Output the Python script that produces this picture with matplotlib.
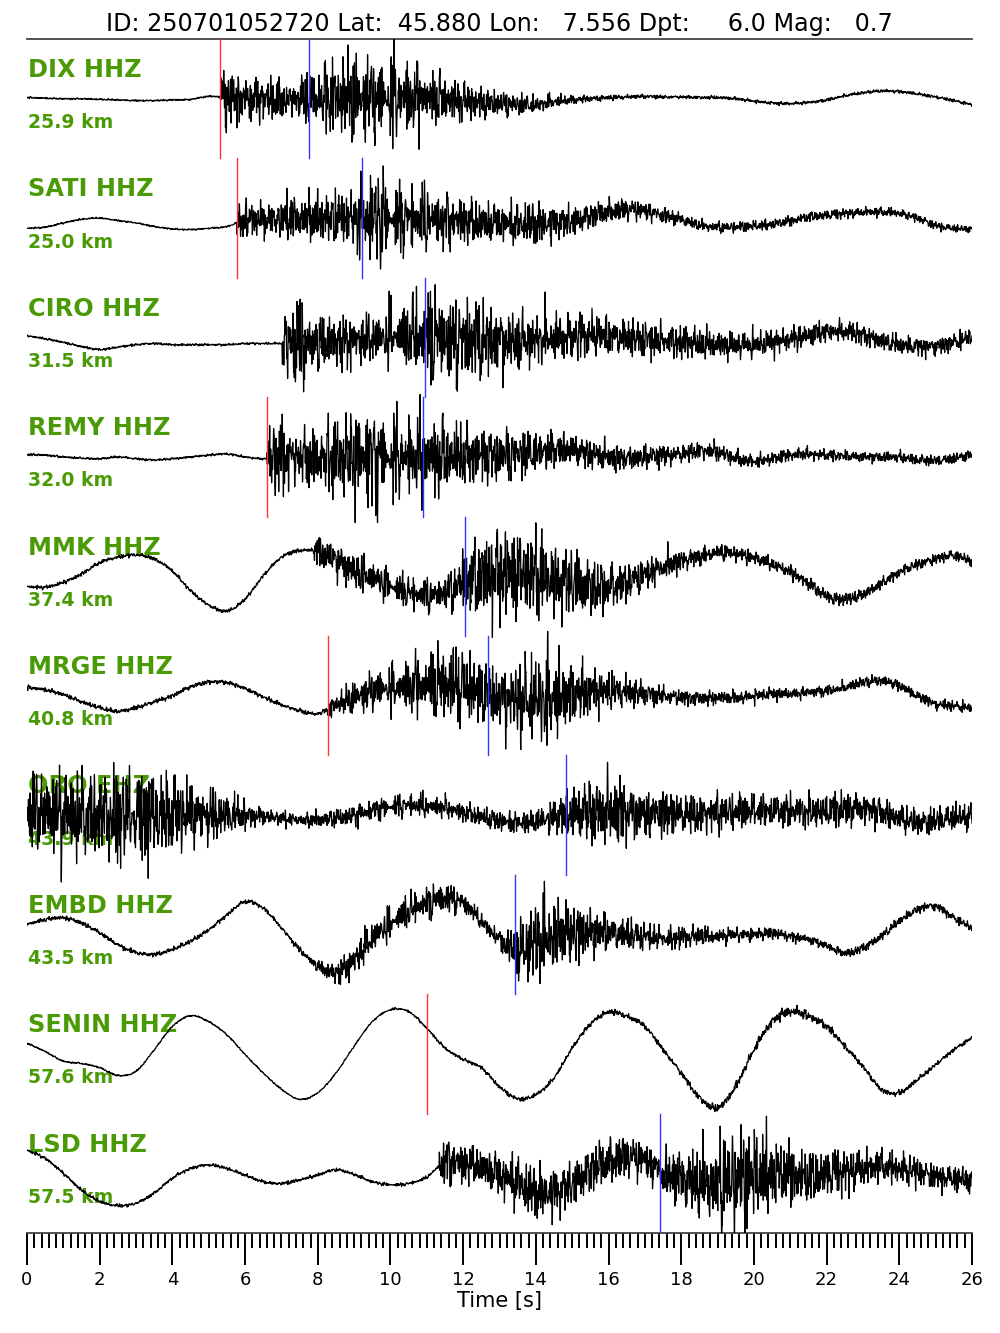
import matplotlib
matplotlib.use("Agg")
import matplotlib.pyplot as plt
import matplotlib.ticker as mticker
import numpy as np

plt.rcParams["font.family"] = ["DejaVu Sans"]

# ── event / station metadata ──────────────────────────────
EVENT_TITLE = "ID: 250701052720 Lat:  45.880 Lon:   7.556 Dpt:     6.0 Mag:   0.7"

stations = ["DIX HHZ", "SATI HHZ", "CIRO HHZ", "REMY HHZ", "MMK HHZ",
            "MRGE HHZ", "ORO EHZ", "EMBD HHZ", "SENIN HHZ", "LSD HHZ"]
distances_km = [25.9, 25.0, 31.5, 32.0, 37.4, 40.8, 43.9, 43.5, 57.6, 57.5]

# picks in seconds after trace start (None = no pick)
p_picks = [5.32, 5.77, None, 6.60, None, 8.27, None, None, 11.01, None]
s_picks = [7.76, 9.23, 10.94, 10.90, 12.06, 12.68, 14.83, 13.43, None, 17.41]
# time where the high-frequency energy switches on
onsets = [5.32, 5.77, 7.02, 6.60, 7.90, 8.27, None, None, None, 11.34]

# ── waveform descriptions, one knot every 0.5 s (0 ... 26 s) ──
# trend: long-period motion, env: short-period amplitude
# both normalised so that 1.0 = half a trace row
knots = np.arange(0, 26.5, 0.5)

trend = {
    "DIX": [0.02, 0.01, 0.0, 0.0, -0.01, -0.02, -0.03, -0.03, -0.02, -0.01,
            0.04, 0.02, 0.0, 0.0, -0.02, 0.0, 0.0, 0.02, 0.0, 0.02,
            0.03, 0.03, 0.02, 0.0, -0.03, -0.06, -0.08, -0.1, -0.1, -0.05,
            -0.02, 0.0, 0.02, 0.03, 0.04, 0.03, 0.03, 0.02, 0.02, 0.0,
            -0.04, -0.07, -0.08, -0.06, -0.02, 0.05, 0.1, 0.13, 0.12, 0.08,
            0.03, -0.03, -0.1],
    "SATI": [-0.17, -0.15, -0.08, -0.02, 0.0, -0.04, -0.08, -0.14, -0.18, -0.19,
             -0.17, -0.14, -0.03, -0.03, -0.02, 0.0, 0.0, 0.0, 0.0, 0.0,
             0.0, 0.0, -0.02, -0.03, -0.05, -0.08, -0.08, -0.1, -0.1, -0.08,
             -0.05, 0.03, 0.1, 0.15, 0.12, 0.05, -0.02, -0.12, -0.15, -0.15,
             -0.13, -0.1, -0.05, 0.02, 0.05, 0.08, 0.1, 0.1, 0.08, 0.0,
             -0.12, -0.17, -0.18],
    "CIRO": [0.03, -0.02, -0.08, -0.15, -0.2, -0.16, -0.12, -0.1, -0.12, -0.12,
             -0.12, -0.12, -0.1, -0.1, -0.1, -0.12, -0.1, -0.08, -0.05, -0.02,
             0.03, 0.05, 0.03, 0.0, -0.03, -0.05, -0.07, -0.05, -0.03, 0.0,
             0.03, 0.04, 0.03, 0.0, -0.03, -0.05, -0.08, -0.1, -0.12, -0.12,
             -0.12, -0.08, -0.03, 0.04, 0.1, 0.1, 0.04, -0.05, -0.12, -0.15,
             -0.14, -0.08, 0.02],
    "REMY": [0.04, 0.03, 0.0, -0.02, -0.03, 0.0, -0.03, -0.05, -0.03, 0.0,
             0.03, 0.05, 0.0, -0.03, 0.0, 0.0, 0.0, 0.0, 0.0, 0.0,
             0.0, 0.0, 0.0, 0.0, 0.0, 0.02, 0.03, 0.05, 0.08, 0.12,
             0.12, 0.05, 0.0, -0.02, 0.0, 0.03, 0.05, 0.1, 0.08, -0.02,
             -0.07, -0.03, 0.03, 0.05, 0.03, 0.02, 0.0, 0.0, 0.0, -0.05,
             -0.06, -0.02, 0.03],
    "MMK": [-0.17, -0.18, -0.1, 0.04, 0.23, 0.32, 0.36, 0.29, 0.09, -0.24,
            -0.48, -0.58, -0.38, 0.01, 0.32, 0.43, 0.42, 0.29, 0.09, -0.02,
            -0.16, -0.27, -0.32, -0.27, -0.1, 0.0, 0.06, 0.09, 0.04, -0.07,
            -0.13, -0.18, -0.18, -0.1, 0.04, 0.15, 0.26, 0.34, 0.4, 0.38,
            0.31, 0.2, 0.07, -0.12, -0.33, -0.38, -0.3, -0.12, 0.07, 0.2,
            0.29, 0.35, 0.25],
    "MRGE": [0.14, 0.1, 0.02, -0.1, -0.2, -0.26, -0.2, -0.1, 0.0, 0.15,
             0.23, 0.22, 0.12, -0.02, -0.15, -0.25, -0.3, -0.15, -0.03, 0.08,
             0.14, 0.16, 0.19, 0.19, 0.16, 0.06, -0.03, -0.08, -0.06, -0.03,
             0.03, 0.08, 0.08, 0.06, 0.03, 0.0, -0.03, -0.04, -0.03, -0.03,
             0.0, 0.03, 0.03, 0.06, 0.08, 0.14, 0.22, 0.25, 0.17, 0.0,
             -0.14, -0.17, -0.21],
    "ORO": [0.05, 0.05, 0.03, 0.0, 0.0, 0.0, 0.0, 0.0, 0.0, 0.0,
            0.0, 0.0, 0.0, -0.02, -0.05, -0.08, -0.08, -0.05, 0.0, 0.08,
            0.14, 0.17, 0.15, 0.12, 0.05, -0.03, -0.1, -0.13, -0.1, -0.03,
            0.03, 0.05, 0.06, 0.05, 0.03, 0.03, 0.02, 0.03, 0.05, 0.06,
            0.07, 0.08, 0.08, 0.06, 0.06, 0.1, 0.12, 0.05, -0.05, -0.12,
            -0.1, -0.04, -0.03],
    "EMBD": [0.17, 0.25, 0.28, 0.19, 0.03, -0.17, -0.3, -0.33, -0.25, -0.11,
             0.08, 0.33, 0.55, 0.44, 0.11, -0.25, -0.53, -0.64, -0.42, -0.06,
             0.19, 0.39, 0.53, 0.6, 0.53, 0.22, -0.08, -0.28, -0.11, -0.03,
             0.03, 0.03, 0.03, 0.0, -0.03, -0.06, -0.05, -0.03, -0.03, 0.0,
             0.0, 0.03, -0.03, -0.08, -0.19, -0.31, -0.22, -0.03, 0.22, 0.42,
             0.47, 0.28, 0.11],
    "SENIN": [0.18, 0.04, -0.12, -0.16, -0.23, -0.36, -0.29, 0.07, 0.46, 0.64,
              0.54, 0.32, -0.01, -0.32, -0.59, -0.76, -0.65, -0.32, 0.13, 0.54,
              0.74, 0.71, 0.43, 0.1, -0.09, -0.23, -0.55, -0.75, -0.68, -0.4,
              0.1, 0.5, 0.7, 0.63, 0.46, 0.07, -0.32, -0.73, -0.9, -0.54,
              0.07, 0.54, 0.71, 0.63, 0.46, 0.13, -0.21, -0.59, -0.65, -0.43,
              -0.18, 0.07, 0.27],
    "LSD": [0.39, 0.25, 0.0, -0.28, -0.47, -0.54, -0.5, -0.33, -0.08, 0.08,
            0.14, 0.08, -0.03, -0.14, -0.17, -0.11, -0.03, 0.06, -0.02, -0.14,
            -0.19, -0.17, -0.06, 0.19, 0.17, 0.11, -0.03, -0.17, -0.33, -0.31,
            -0.17, 0.06, 0.19, 0.28, 0.22, 0.0, -0.08, -0.17, -0.19, -0.11,
            -0.03, 0.0, -0.03, -0.06, 0.0, 0.03, 0.08, 0.11, 0.08, 0.03,
            -0.06, -0.08, -0.11],
}

env = {
    "DIX": [0.015] * 10 +
           [0.015, 0.6, 0.4, 0.4, 0.38, 0.45, 0.6, 0.75, 0.85, 0.7,
            0.85, 0.7, 0.55, 0.45, 0.38, 0.3, 0.24, 0.2, 0.17, 0.12,
            0.09, 0.06, 0.05, 0.04, 0.04, 0.035, 0.03, 0.03, 0.03, 0.03] +
           [0.03] * 13,
    "SATI": [0.015] * 10 +
            [0.015, 0.015, 0.35, 0.32, 0.35, 0.42, 0.45, 0.5, 0.55, 0.9,
             0.7, 0.6, 0.55, 0.5, 0.45, 0.4, 0.35, 0.38, 0.42, 0.32,
             0.27, 0.24, 0.22, 0.2, 0.17, 0.14, 0.12, 0.11, 0.1, 0.1,
             0.1, 0.1, 0.09, 0.09, 0.09, 0.09, 0.09, 0.09, 0.08, 0.08,
             0.08, 0.07, 0.07],
    "CIRO": [0.02] * 15 +
            [0.8, 0.5, 0.5, 0.45, 0.45,
             0.55, 0.65, 0.9, 0.8, 0.8, 0.75, 0.6, 0.55, 0.5, 0.45,
             0.42, 0.4, 0.38, 0.36, 0.38, 0.32, 0.3, 0.28, 0.28, 0.26,
             0.25, 0.24, 0.22, 0.22, 0.2, 0.19, 0.18, 0.18, 0.17, 0.17,
             0.17, 0.17, 0.18],
    "REMY": [0.02] * 14 +
            [0.65, 0.55, 0.6, 0.8, 0.85, 0.95,
             0.75, 0.7, 0.75, 0.7, 0.6, 0.5, 0.5, 0.45, 0.4, 0.35,
             0.3, 0.28, 0.25, 0.22, 0.22, 0.2, 0.18, 0.17, 0.15, 0.14,
             0.12, 0.12, 0.12, 0.11, 0.1, 0.1, 0.1, 0.1, 0.1, 0.1,
             0.1, 0.1, 0.1],
    "MMK": [0.035] * 16 +
           [0.3, 0.28, 0.4, 0.3,
            0.3, 0.3, 0.3, 0.28, 0.6, 0.8, 0.9, 0.85, 0.8, 0.7,
            0.6, 0.55, 0.45, 0.35, 0.3, 0.25, 0.2, 0.18, 0.16, 0.15,
            0.13, 0.12, 0.12, 0.12, 0.12, 0.12, 0.11, 0.1, 0.1, 0.1,
            0.1, 0.1, 0.1],
    "MRGE": [0.04] * 17 +
            [0.2, 0.3, 0.35,
             0.4, 0.5, 0.6, 0.75, 0.7, 0.65, 0.55, 0.7, 0.85, 0.9,
             0.6, 0.45, 0.35, 0.3, 0.22, 0.18, 0.15, 0.13, 0.12, 0.12,
             0.12, 0.12, 0.11, 0.1, 0.1, 0.1, 0.1, 0.1, 0.1, 0.1,
             0.1, 0.1, 0.1],
    "ORO": [0.75, 0.7, 0.85, 0.85, 0.8, 0.9, 0.95, 0.9, 0.8, 0.65,
            0.5, 0.38, 0.27, 0.16, 0.12, 0.12, 0.15, 0.18, 0.2, 0.2,
            0.2, 0.2, 0.2, 0.18, 0.18, 0.18, 0.2, 0.2, 0.2, 0.3,
            0.5, 0.6, 0.65, 0.55, 0.45, 0.45, 0.4, 0.4, 0.35, 0.35,
            0.3, 0.3, 0.3, 0.3, 0.3, 0.35, 0.3, 0.3, 0.25, 0.25,
            0.25, 0.25, 0.25],
    "EMBD": [0.04] * 15 +
            [0.05, 0.1, 0.2, 0.3, 0.3,
             0.3, 0.3, 0.3, 0.3, 0.2, 0.15, 0.15, 0.55, 0.85, 0.7,
             0.6, 0.45, 0.35, 0.3, 0.25, 0.2, 0.2, 0.18, 0.15, 0.13,
             0.12, 0.12, 0.1, 0.08, 0.08, 0.08, 0.08, 0.08, 0.08, 0.08,
             0.08, 0.08, 0.08],
    "SENIN": [0.015] * 20 +
             [0.02, 0.02, 0.025, 0.03, 0.03, 0.035, 0.04, 0.04, 0.04, 0.04,
              0.04, 0.045, 0.05, 0.05, 0.05, 0.05, 0.06, 0.06, 0.07, 0.07,
              0.08, 0.09, 0.1, 0.09, 0.08, 0.06, 0.05, 0.05, 0.05, 0.05,
              0.04, 0.04, 0.04],
    "LSD": [0.03] * 23 +
           [0.45, 0.4, 0.35, 0.4, 0.5, 0.5, 0.45,
            0.4, 0.45, 0.45, 0.4, 0.35, 0.35, 0.55, 0.7, 0.9, 1.0,
            0.9, 0.7, 0.6, 0.5, 0.45, 0.4, 0.35, 0.3, 0.3, 0.28,
            0.25, 0.25, 0.25],
}

LABEL_GREEN = "#4a9a06"
P_COLOR = "#ff3535"
S_COLOR = "#3535ff"

t = np.arange(0, 26.0 + 1e-9, 0.005)   # 200 sps


def smooth_curve(vals):
    # cubic Hermite through the knots, keeps the long-period swing round
    v = np.asarray(vals, dtype=float)
    h = knots[1] - knots[0]
    m = np.gradient(v, h)
    k = np.clip(np.searchsorted(knots, t, side="right") - 1, 0, len(knots) - 2)
    s = (t - knots[k]) / h
    h00 = 2 * s**3 - 3 * s**2 + 1
    h10 = s**3 - 2 * s**2 + s
    h01 = -2 * s**3 + 3 * s**2
    h11 = s**3 - s**2
    return h00 * v[k] + h10 * h * m[k] + h01 * v[k + 1] + h11 * h * m[k + 1]


def amplitude(vals, onset):
    vals = np.asarray(vals, dtype=float)
    a = np.interp(t, knots, vals)
    if onset is not None:
        k = np.searchsorted(knots, onset)
        a[(t >= knots[k - 1]) & (t < onset)] = vals[k - 1]
        a[(t >= onset) & (t < knots[k])] = vals[k]
    return a


def wiggle(row):
    # short-period texture: a bundle of incommensurate sines
    freqs = [3.1, 4.7, 6.3, 7.9, 9.4, 10.9, 12.6, 14.2, 15.9, 17.7,
             19.6, 21.3, 23.8, 26.1, 28.9, 31.7, 34.3, 37.1, 41.3, 45.7]
    g = 0.6180339887
    c = np.zeros_like(t)
    for j, f in enumerate(freqs):
        ph = 2 * np.pi * (((j + 1) * (row + 3) * g) % 1.0)
        wob = 1.1 * np.sin(2 * np.pi * (0.13 + 0.071 * j) * t + j)
        c += np.sin(2 * np.pi * f * t + ph + wob)
    return c / (2.5 * c.std())


fig = plt.figure(figsize=(10, 13.33), dpi=100)
ax = fig.add_axes([0.027, 0.075, 0.945, 0.8957])

for i, name in enumerate(stations):
    key = name.split()[0]
    tr = smooth_curve(trend[key])
    a = amplitude(env[key], onsets[i])
    y = tr + a * wiggle(i)
    ax.plot(t, i + 0.5 - 0.5 * y, color="black", lw=0.9, zorder=3)

    if p_picks[i] is not None:
        ax.plot([p_picks[i]] * 2, [i, i + 1], color=P_COLOR, lw=1.0, zorder=4)
    if s_picks[i] is not None:
        ax.plot([s_picks[i]] * 2, [i, i + 1], color=S_COLOR, lw=1.0, zorder=4)

    ax.text(0.03, i + 0.26, name, color=LABEL_GREEN, fontsize=17.3,
            fontweight="bold", ha="left", va="center", zorder=2)
    ax.text(0.03, i + 0.70, f"{distances_km[i]:.1f} km", color=LABEL_GREEN,
            fontsize=13.6, fontweight="bold", ha="left", va="center", zorder=2)

ax.set_xlim(0, 26)
ax.set_ylim(10, 0)
ax.set_yticks([])
for side in ("left", "right"):
    ax.spines[side].set_visible(False)
for side in ("top", "bottom"):
    ax.spines[side].set_color("#444444")
    ax.spines[side].set_linewidth(1.3)

ax.xaxis.set_major_locator(mticker.MultipleLocator(2))
ax.xaxis.set_minor_locator(mticker.MultipleLocator(0.2))
ax.tick_params(axis="x", which="major", direction="out", length=23, width=1.4,
               labelsize=13, pad=4)
ax.tick_params(axis="x", which="minor", direction="out", length=11, width=1.4)
ax.set_xlabel("Time [s]", fontsize=15, labelpad=2)
ax.set_title(EVENT_TITLE, fontsize=17.2, pad=6)

fig.savefig("out.png", dpi=100, facecolor="white")
